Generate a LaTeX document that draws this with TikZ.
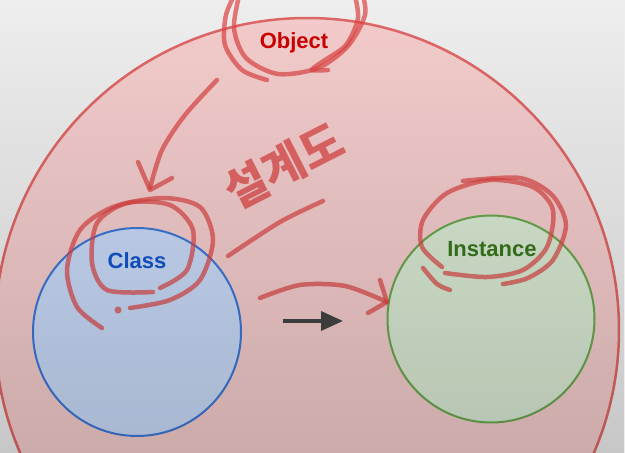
\documentclass[tikz,border=0pt]{standalone}
\usepackage{fontspec}
\setmainfont{Liberation Sans}
\newfontfamily\krfont{Noto Sans CJK KR}
\usetikzlibrary{arrows.meta,fadings}
\definecolor{bgc}{HTML}{EEEEEE}
\definecolor{objfill}{HTML}{F4CCCC}
\definecolor{objdraw}{HTML}{E06666}
\definecolor{objtext}{HTML}{CC0000}
\definecolor{clsfill}{HTML}{C9DAF8}
\definecolor{clsdraw}{HTML}{3C78D8}
\definecolor{clstext}{HTML}{1155CC}
\definecolor{insfill}{HTML}{D9EAD3}
\definecolor{insdraw}{HTML}{6AA84F}
\definecolor{instext}{HTML}{38761D}
\definecolor{pen}{HTML}{DD4444}
\definecolor{arrowgray}{HTML}{444444}
\begin{document}
\begin{tikzpicture}[x=1pt,y=-1pt,
  lbl/.style={font=\fontsize{22}{26}\selectfont\bfseries, inner sep=0pt},
  ring/.style={circle, inner sep=0pt, line width=2pt},
  ink/.style={draw=pen, draw opacity=0.7, line width=4.5pt, line cap=round, line join=round},
]
\useasboundingbox (0,0) rectangle (625,453);
\fill[bgc] (0,0) rectangle (625,453);
\begin{scope}
\clip (0,0) rectangle (625,453);
\node[ring, draw=objdraw, fill=objfill, line width=2.5pt, minimum size=624pt] (objc) at (307,330) {};
\node[ring, draw=clsdraw, fill=clsfill, minimum size=208pt] (clsc) at (137,332) {};
\node[ring, draw=insdraw, fill=insfill, minimum size=207pt] (insc) at (491,319) {};
\end{scope}
\node[lbl, text=objtext] (objl) at (294,43) {Object};
\node[lbl, text=clstext] (clsl) at (137,261) {Class};
\node[lbl, text=instext] (insl) at (492,249) {Instance};
\coordinate (ga) at (283,321);
\coordinate (gb) at (343,321);
\draw[arrowgray, line width=3.5pt, -{Triangle[length=22pt,width=19pt]}] (ga) -- (gb);
% handwritten annotations
\begin{scope}
\clip (0,0) rectangle (625,453);
% loops around Object
\draw[ink] plot[smooth] coordinates {(267,80) (242,70) (225,45) (226,15) (236,-8)};
\draw[ink] plot[smooth] coordinates {(240,-8) (234,28) (246,58) (278,74) (318,68) (348,46) (365,15) (362,-8)};
\draw[ink] plot[smooth] coordinates {(354,-8) (358,18) (346,45) (322,62) (312,70) (328,70)};
% arrow Object -> Class
\draw[ink] plot[smooth] coordinates {(217,80) (185,115) (162,150) (150,188)};
\draw[ink] (138,162) -- (150,190) -- (172,178);
% Korean annotation
\node[text=pen, opacity=0.75, rotate=27, font=\krfont\fontsize{46}{50}\selectfont\bfseries, inner sep=0pt] (kr) at (284,166) {설계도};
\draw[ink] plot[smooth] coordinates {(323,201) (280,222) (228,256)};
% loops around Class
\draw[ink] plot[smooth] coordinates {(153,292) (107,290) (92,263) (97,223) (127,203) (170,205) (193,230) (187,270) (160,288)};
\draw[ink] plot[smooth] coordinates {(102,328) (77,307) (67,270) (80,230) (113,207) (163,198) (200,207) (213,240) (200,280) (170,300) (130,308)};
\fill[pen, opacity=0.7] (118,310) circle (3.5pt);
% loops around Instance
\draw[ink] plot[smooth] coordinates {(442,267) (422,247) (423,220) (447,193) (490,180) (533,187) (553,210) (547,247) (523,270) (487,277) (445,273)};
\draw[ink] plot[smooth] coordinates {(423,268) (437,284) (450,290)};
\draw[ink] plot[smooth] coordinates {(463,181) (520,178) (552,195) (566,225) (553,260) (528,278) (503,284)};
% arrow Class -> Instance
\draw[ink] plot[smooth] coordinates {(260,298) (300,285) (345,286) (387,302)};
\draw[ink] (380,280) -- (387,302) -- (368,313);
\end{scope}
\fill[black, opacity=0.16, path fading=north] (0,0) rectangle (625,453);
\end{tikzpicture}
\end{document}
